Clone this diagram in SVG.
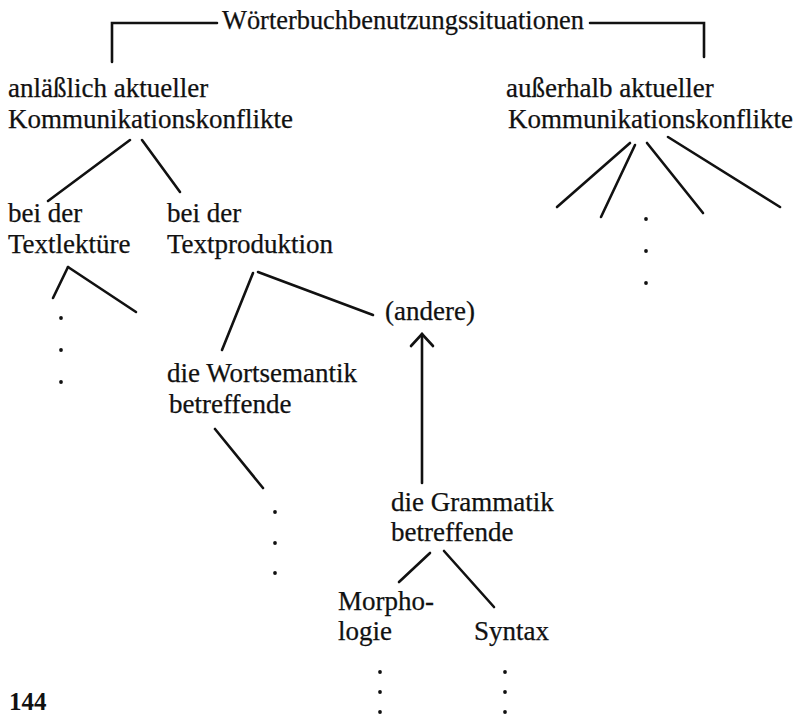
<svg xmlns="http://www.w3.org/2000/svg" width="802" height="715" viewBox="0 0 802 715">
<style>
text{font-family:"Liberation Serif","Times New Roman",serif;font-size:27px;fill:#111;stroke:#111;stroke-width:0.25}
.c line,.c polyline{stroke:#111;stroke-width:2.6;fill:none;stroke-linecap:round;stroke-linejoin:miter}
.d circle{fill:#111}
</style>
<rect width="802" height="715" fill="#fff"/>
<g class="c" id="connectors">
<polyline points="112,62 112,23 217,23"/>
<polyline points="590,23 704,23 704,57"/>
<line x1="130" y1="140" x2="48" y2="201"/>
<line x1="142" y1="140" x2="180" y2="192"/>
<line x1="630" y1="143" x2="557" y2="207"/>
<line x1="635" y1="145" x2="601" y2="217"/>
<line x1="647" y1="143" x2="703" y2="213"/>
<line x1="668" y1="137" x2="780" y2="207"/>
<line x1="68" y1="267" x2="53" y2="298"/>
<line x1="68" y1="267" x2="136" y2="312"/>
<line x1="253" y1="273" x2="222" y2="350"/>
<line x1="258" y1="272" x2="373" y2="315"/>
<line x1="215" y1="429" x2="263" y2="488"/>
<line x1="422" y1="483" x2="422" y2="334"/>
<polyline points="411,346 422,334 433,346"/>
<line x1="430" y1="553" x2="399" y2="582"/>
<line x1="444" y1="551" x2="494" y2="607"/>
</g>
<g id="title"><text x="222" y="29" textLength="362" lengthAdjust="spacingAndGlyphs">Wörterbuchbenutzungssituationen</text></g>
<g id="n-anlaesslich"><text x="8" y="97">anläßlich aktueller</text><text x="8" y="128">Kommunikationskonflikte</text></g>
<g id="n-ausserhalb"><text x="506" y="97">außerhalb aktueller</text><text x="508" y="128">Kommunikationskonflikte</text></g>
<g id="n-textlektuere"><text x="8" y="222">bei der</text><text x="8" y="253">Textlektüre</text></g>
<g id="n-textproduktion"><text x="167" y="222">bei der</text><text x="167" y="253">Textproduktion</text></g>
<g id="n-andere"><text x="385" y="320">(andere)</text></g>
<g id="n-wortsemantik"><text x="167" y="382">die Wortsemantik</text><text x="169" y="413">betreffende</text></g>
<g id="n-grammatik"><text x="391" y="511">die Grammatik</text><text x="391" y="541">betreffende</text></g>
<g id="n-morphologie"><text x="338" y="610">Morpho-</text><text x="338" y="640">logie</text></g>
<g id="n-syntax"><text x="474" y="640">Syntax</text></g>
<g class="d" id="dots">
<circle cx="61" cy="318" r="1.9"/><circle cx="61" cy="350" r="1.9"/><circle cx="61" cy="382" r="1.9"/>
<circle cx="646" cy="219" r="1.9"/><circle cx="646" cy="251" r="1.9"/><circle cx="646" cy="283" r="1.9"/>
<circle cx="275" cy="512" r="1.9"/><circle cx="275" cy="543" r="1.9"/><circle cx="275" cy="573" r="1.9"/>
<circle cx="380" cy="672" r="1.9"/><circle cx="380" cy="692" r="1.9"/><circle cx="380" cy="712" r="1.9"/>
<circle cx="505" cy="672" r="1.9"/><circle cx="505" cy="692" r="1.9"/><circle cx="505" cy="712" r="1.9"/>
</g>
<g id="page-number"><text x="9" y="710" style="font-size:25px;font-weight:bold;stroke-width:0">144</text></g>
</svg>
